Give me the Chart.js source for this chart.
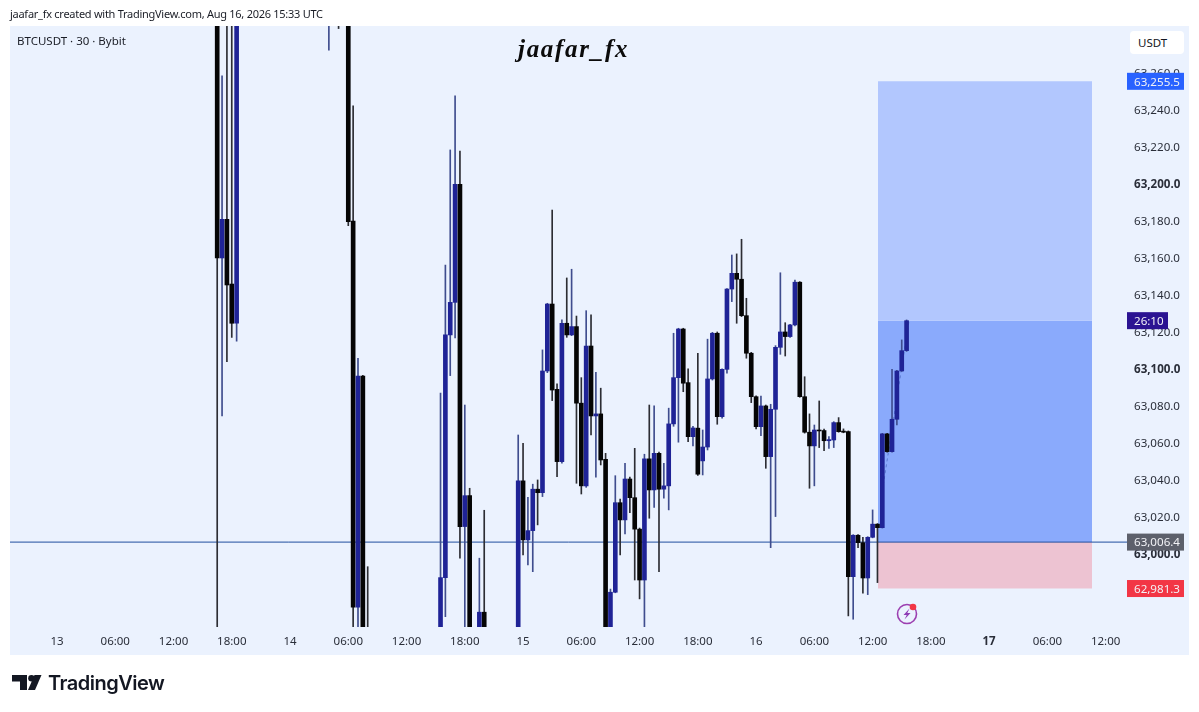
<!DOCTYPE html>
<html>
<head>
<meta charset="utf-8">
<title>BTCUSDT 30</title>
<script src="https://cdn.jsdelivr.net/npm/chart.js@4/dist/chart.umd.min.js"></script>
<style>
  html, body { margin: 0; padding: 0; background: #fff; }
  #wrap { position: relative; width: 1199px; height: 712px; overflow: hidden; font-family: "Noto Sans", sans-serif; color: #131722; }
  #wrap canvas { position: absolute; left: 0; top: 0; }
  .abs { position: absolute; white-space: nowrap; }
  #header { left: 10px; top: 6px; font-size: 11px; line-height: 16px; letter-spacing: -0.27px; color: #1a1d26; }
  #symbol { left: 17px; top: 33px; font-size: 11.5px; line-height: 16px; color: #1a1d26; }
  #mark { left: 518px; top: 35px; font: italic bold 25px "Liberation Serif", serif; letter-spacing: 1.7px; color: #0b0b0b; }
  #unit { left: 1130px; top: 31px; width: 54px; height: 23px; background: #fff; border-radius: 4px; font-size: 11.5px; line-height: 23px; text-indent: 8px; }
  #brand { left: 48px; top: 669px; font: 600 20px/28px Inter, sans-serif; letter-spacing: -0.5px; color: #131722; }
  svg.abs { overflow: visible; }
</style>
</head>
<body>
<div id="wrap">
  <canvas id="chart" width="1199" height="712"></canvas>
  <div class="abs" id="header">jaafar_fx created with TradingView.com, Aug 16, 2026 15:33 UTC</div>
  <div class="abs" id="symbol">BTCUSDT · 30 · Bybit</div>
  <div class="abs" id="mark">jaafar_fx</div>
  <div class="abs" id="unit">USDT</div>
  <svg class="abs" style="left:12px;top:675px" width="30" height="16" viewBox="0 0 30 16">
    <path d="M0 0h15v15H8V6.500H0z" fill="#131722"/>
    <circle cx="19.500" cy="3.300" r="3.300" fill="#131722"/>
    <path d="M22.500 0H29.500L23 15H16z" fill="#131722"/>
  </svg>
  <div class="abs" id="brand">TradingView</div>
  <svg class="abs" style="left:896px;top:603px" width="24" height="24" viewBox="0 0 24 24">
    <circle cx="11" cy="11" r="9.500" fill="none" stroke="#9c3fb0" stroke-width="1.600"/>
    <path d="M13.500 5.500L7.500 12h3.200L8.500 16.500l6-6.500h-3.200z" fill="#8e3bb5"/>
    <circle cx="17" cy="4" r="3.300" fill="#f23645"/>
  </svg>
</div>

<script>
// bar number counted from Aug 13 00:00, 30 minutes each
const barIndex = [
  33, 34, 35, 36, 37, 56, 58, 60, 61, 62, 63, 64,
  79, 80, 81, 82, 83, 84, 85, 87, 88,
  95, 96, 97, 98, 99, 100, 101, 102, 103, 104, 105, 106, 107, 108, 109, 110, 111, 112, 113, 114,
  115, 116, 117, 118, 119, 120, 121, 122, 123, 124, 125, 126, 127, 128, 129, 130, 131, 132, 133, 134,
  135, 136, 137, 138, 139, 140, 141, 142, 143, 144, 145, 146, 147, 148, 149, 150, 151, 152, 153, 154,
  155, 156, 157, 158, 159, 160, 161, 162, 163, 164, 165, 166, 167, 168, 169, 170, 171, 172, 173, 174, 175
];
const opens = [
  63330, 63160, 63180.9, 63145.9, 63124.7, 63300, 63310, 63320, 63180, 62971.2, 63096.2, 62950,
  62950, 62987.2, 63118.4, 63136, 63199.8, 63014.8, 63031.5, 62955, 62968.5,
  62955, 63039.5, 63007.6, 63012.6, 63035, 63033.1, 63098.9, 63135.1, 63089, 63049.9, 63124.7, 63118.4, 63122.9, 63081.5, 63036.8, 63112.4, 63074.6, 63075.7, 63051.2, 62955,
  62979.3, 63027.7, 63018.4, 63040.5, 63030.4, 63013.4, 62985.9, 63051.4, 63034.6, 63054.4, 63035, 63036.8, 63070.3, 63095.3, 63121.6, 63092.6, 63063.4, 63068, 63050.3, 63057.8,
  63094.6, 63119.3, 63074.2, 63099.8, 63143.2, 63151.7, 63148.5, 63128.8, 63108.5, 63085, 63068.8, 63080, 63052.6, 63078.2, 63111.7, 63120, 63117.5, 63123.8, 63146.9, 63085,
  63065.8, 63058.4, 63067, 63066.7, 63061.2, 63061.6, 63071, 63066.4, 63066.1, 62987.7, 63010.1, 63006.1, 62987, 63009, 63016.1, 63014.2, 63064.9, 63055.3, 63072.8, 63098.9, 63109.9
];
const highs = [
  63350, 63258.5, 63300, 63300, 63310, 63330, 63320, 63330, 63242.3, 63105.8, 63096.5, 62993.1,
  63086.9, 63156.2, 63218.4, 63247.6, 63217.8, 63080.5, 63035.5, 62997.7, 63023.6,
  63064.3, 63059.8, 63030.6, 63037.7, 63040, 63110.3, 63135.5, 63185.9, 63091.9, 63126.5, 63149.2, 63153.9, 63128.6, 63095.3, 63131.5, 63129.2, 63098.2, 63089.6, 63054.4, 62981,
  63042.3, 63029.6, 63049, 63041.5, 63057.1, 63014, 63053.9, 63080.5, 63080, 63055, 63049, 63078.8, 63119.3, 63122, 63122, 63100, 63069, 63108.5, 63067, 63116.1,
  63119.8, 63120, 63100, 63143.5, 63161.6, 63162.2, 63170.1, 63138.2, 63109, 63085.5, 63085.4, 63080.5, 63080.9, 63112.6, 63152, 63125, 63124.1, 63148.1, 63147.2, 63095.8,
  63075.7, 63069.7, 63082.7, 63067.5, 63063.4, 63071.5, 63073.7, 63067.6, 63066.5, 63010.4, 63010.4, 63009, 63009.3, 63023.8, 63016.4, 63065.2, 63065.2, 63099.8, 63099.2, 63115.7, 63126.5
];
const lows = [
  62950, 63074.6, 63103.9, 63117, 63115, 63272.4, 63284, 63177.5, 62950, 62950, 62950, 62940,
  62945, 62966.1, 63096.4, 63116.8, 62997.7, 62955, 62950, 62950, 62950,
  62950, 62999.5, 62994, 62990.4, 63015.7, 63031, 63098, 63082.9, 63041.8, 63049, 63117.1, 63118, 63038.2, 63032.4, 63036, 63064.3, 63041.5, 63048.1, 62950, 62950,
  62979, 62999.5, 63010.8, 63022.3, 62985.9, 62975.7, 62955, 63019.3, 63025.2, 62990.4, 63030.1, 63023.8, 63069, 63060.4, 63087.7, 63060.7, 63058.4, 63042.5, 63042.7, 63056.2,
  63094, 63070.1, 63073.4, 63097.7, 63136.4, 63124.7, 63128.3, 63105.8, 63081.8, 63067.6, 63063.9, 63046.3, 63003.4, 63020.2, 63107.9, 63107, 63117, 63123.3, 63084.7, 63065.3,
  63035.5, 63036.8, 63057.5, 63055.8, 63057.1, 63057.5, 63065.8, 63065.5, 62966.5, 62964.7, 63003.4, 62978.8, 62978, 63008.7, 62984.5, 63014, 63055, 63055, 63069.7, 63098.7, 63109.5
];
const closes = [
  63160, 63180.9, 63145.4, 63124.7, 63300, 63320, 63295, 63179.6, 62971.2, 63096.2, 62955, 62945,
  62987.2, 63118.4, 63136, 63199.8, 63014.8, 63031.5, 62955, 62968.5, 62955,
  63039.5, 63007.6, 63012.6, 63035, 63033.1, 63098.9, 63135.1, 63088.6, 63049.9, 63124.7, 63118.4, 63122.9, 63081.5, 63036.8, 63112.4, 63074.6, 63075.7, 63050.8, 62955, 62979.3,
  63027.7, 63018.4, 63040.5, 63030.4, 63013.4, 62985.9, 63051.4, 63034.6, 63054.4, 63035, 63036.8, 63070.3, 63095.3, 63121.6, 63092.3, 63063.4, 63068.1, 63043.1, 63057.8, 63094.6,
  63119.3, 63074.2, 63099.8, 63143.2, 63151.7, 63148.5, 63128.8, 63108.5, 63085, 63068.8, 63080, 63052.6, 63078.2, 63111.7, 63120, 63117.5, 63123.8, 63146.9, 63085, 63065.8,
  63058.4, 63067, 63066.5, 63061.2, 63061.8, 63071, 63066.1, 63065.8, 62987.7, 63010.1, 63006.1, 62987, 63009, 63016.1, 63014.2, 63064.9, 63055.3, 63072.8, 63098.9, 63109.9, 63126.1
];

const timeLabels = ['13', '06:00', '12:00', '18:00', '14', '06:00', '12:00', '18:00', '15', '06:00', '12:00', '18:00', '16', '06:00', '12:00', '18:00', '17', '06:00', '12:00'];
const barsPerLabel = 12;
const priceTicks = [63000, 63020, 63040, 63060, 63080, 63100, 63120, 63140, 63160, 63180, 63200, 63220, 63240, 63260];
const boldPrices = [63000, 63100, 63200];

// long position drawing and price labels
const targetPrice = 63255.5;
const lastPrice = 63126.1;
const entryPrice = 63006.4;
const stopPrice = 62981.3;
const boxBars = [169.1, 213.2];
const moveBars = [170, 175.5];
const movePrices = [63034, 63126];
const countdown = '26:10';

const UP = '#1f2396', DOWN = '#050505';
const UP_WICK = '#3f4d8e', DOWN_WICK = '#2c2d33';
const fmt = v => v.toLocaleString('en-US', { minimumFractionDigits: 1, maximumFractionDigits: 1 });

function box(top, bottom, color) {
  return {
    type: 'line', order: 6, pointRadius: 0, borderWidth: 0, backgroundColor: color,
    data: boxBars.map(x => ({ x, y: top })), fill: { value: bottom }
  };
}

// price tags sit on top of the axis labels, like in the terminal
const tags = {
  id: 'tags',
  afterDraw(chart) {
    const c = chart.ctx, y = chart.scales.y;
    const tag = (price, text, bg, w) => {
      const py = y.getPixelForValue(price);
      c.fillStyle = bg;
      c.fillRect(1127, py - 8.5, w, 17);
      c.fillStyle = '#f2f2f6';
      c.font = '11.6px "Noto Sans"';
      c.textAlign = 'left';
      c.textBaseline = 'middle';
      c.fillText(text, 1134, py + 1);
    };
    tag(targetPrice, fmt(targetPrice), '#2962ff', 57);
    tag(lastPrice, countdown, '#2b1392', 41);
    tag(entryPrice, fmt(entryPrice), '#5d606b', 57);
    tag(stopPrice, fmt(stopPrice), '#f23645', 57);
  }
};

const panel = {
  id: 'panel',
  beforeDraw(chart) {
    const c = chart.ctx;
    c.fillStyle = '#ffffff';
    c.fillRect(0, 0, 1199, 712);
    c.fillStyle = '#ebf2fe';
    c.fillRect(10, 26, 1179, 629);
  }
};

new Chart(document.getElementById('chart'), {
  data: {
    datasets: [
      {
        type: 'bar', order: 1, grouped: false, barThickness: 4,
        data: barIndex.map((x, i) => ({ x, y: [opens[i], closes[i]] })),
        backgroundColor: barIndex.map((x, i) => closes[i] >= opens[i] ? UP : DOWN)
      },
      {
        type: 'bar', order: 2, grouped: false, barThickness: 1,
        data: barIndex.map((x, i) => ({ x, y: [lows[i], highs[i]] })),
        backgroundColor: barIndex.map((x, i) => closes[i] >= opens[i] ? UP_WICK : DOWN_WICK)
      },
      {
        type: 'line', order: 4, pointRadius: 0, borderWidth: 1, borderColor: '#1f4e9e',
        data: [{ x: -10, y: entryPrice }, { x: 221, y: entryPrice }]
      },
      {
        type: 'line', order: 3, pointRadius: 0, borderWidth: 1, borderDash: [3, 3], borderColor: 'rgba(70,100,190,0.7)',
        data: moveBars.map((x, i) => ({ x, y: movePrices[i] }))
      },
      box(targetPrice, lastPrice, '#b2c7fe'),
      box(lastPrice, entryPrice, '#8aaafc'),
      box(entryPrice, stopPrice, '#edc3d2')
    ]
  },
  options: {
    responsive: false,
    animation: false,
    layout: { padding: { left: 10, top: 26, right: 10, bottom: 57 } },
    plugins: { legend: { display: false }, tooltip: { enabled: false } },
    scales: {
      x: {
        type: 'linear', min: -9.68, max: 220.4, offset: false,
        grid: { display: false }, border: { display: false },
        afterFit(s) { s.height = 28; s.paddingLeft = 0; s.paddingRight = 0; },
        afterBuildTicks(s) { s.ticks = timeLabels.map((_, k) => ({ value: k * barsPerLabel })); },
        ticks: {
          autoSkip: false, maxRotation: 0, padding: 0, color: '#2a2e39',
          font: ctx => ({ family: 'Noto Sans', size: 11.5, weight: timeLabels[ctx.index] === '17' ? 'bold' : 'normal' }),
          callback: (v, i) => timeLabels[i]
        }
      },
      y: {
        position: 'right', min: 62960.5, max: 63285.4,
        grid: { display: false, drawTicks: false }, border: { display: false },
        afterFit(s) { s.width = 62; s.paddingTop = 0; s.paddingBottom = 0; },
        afterBuildTicks(s) { s.ticks = priceTicks.map(value => ({ value })); },
        ticks: {
          autoSkip: false, padding: 7, labelOffset: 1, color: '#2a2e39',
          font: ctx => ({ family: 'Noto Sans', size: 11.6, weight: boldPrices.includes(ctx.tick && ctx.tick.value) ? 'bold' : 'normal' }),
          callback: v => fmt(v)
        }
      }
    }
  },
  plugins: [panel, tags]
});
</script>
</body>
</html>
